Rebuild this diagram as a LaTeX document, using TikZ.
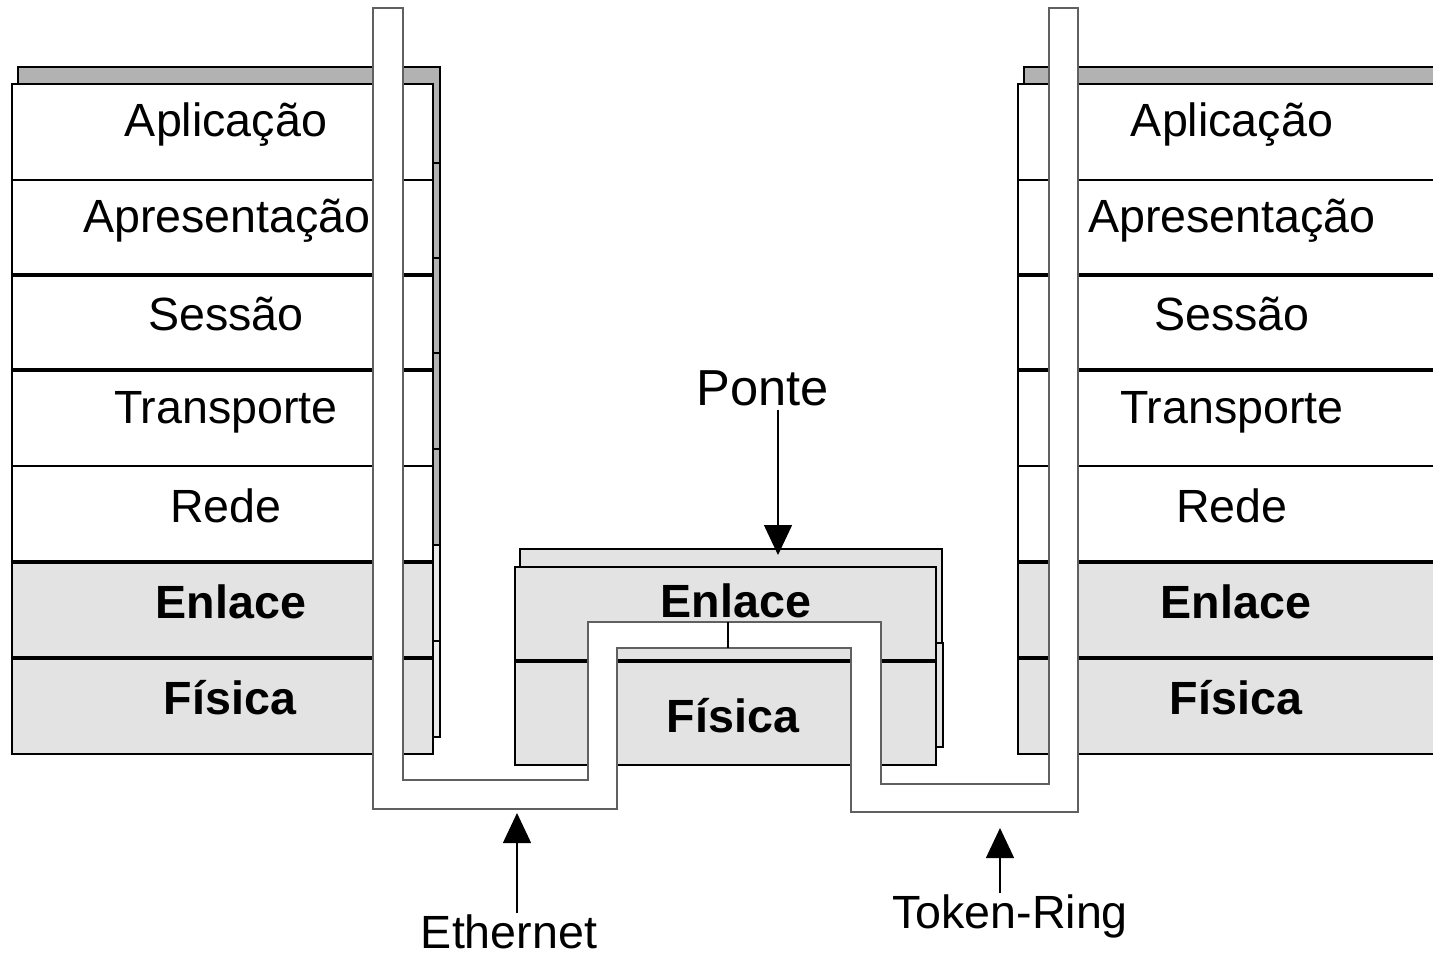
\documentclass[tikz,border=0pt]{standalone}
\usepackage{fontspec}
\setmainfont{Liberation Sans}
\usetikzlibrary{arrows.meta}
\definecolor{shadowgray}{HTML}{B2B2B2}
\definecolor{lightfill}{HTML}{E3E3E3}
\definecolor{lightshadow}{HTML}{E9E9E9}
\definecolor{pipeedge}{HTML}{606060}
\begin{document}
\begin{tikzpicture}[x=0.5pt,y=-0.5pt,
  stackline/.style={draw=black,line width=0.9pt},
  sepline/.style={draw=black,line width=1.6pt},
  pipe/.style={draw=pipeedge,fill=white,line width=0.8pt},
  lab/.style={anchor=base,inner sep=0pt,font=\fontsize{23.3}{27}\selectfont},
  blab/.style={lab,font=\fontsize{23.3}{27}\selectfont\bfseries},
  arr/.style={draw=black,line width=0.7pt,-{Triangle[length=15pt,width=14pt]}}]
\clip (0,0) rectangle (1433,954);
% ---------- left stack ----------
\foreach \t/\b/\f in {84/180/shadowgray,180/275/shadowgray,275/370/shadowgray,370/466/shadowgray,466/562/shadowgray,562/658/lightshadow,658/754/lightshadow}
  \draw[stackline,fill=\f] (18,{\t-17}) rectangle (440,{\b-17});
\foreach \t/\b/\f in {84/180/white,180/275/white,275/370/white,370/466/white,466/562/white,562/658/lightfill,658/754/lightfill}
  \draw[stackline,fill=\f] (12,\t) rectangle (433,\b);
\foreach \y in {275,370,562,658}
  \draw[sepline] (12,\y) -- (433,\y);
\node[lab]  (la1) at (226,136) {Aplicação};
\node[lab]  (la2) at (227,232) {Apresentação};
\node[lab]  (la3) at (226,330) {Sessão};
\node[lab]  (la4) at (226,423) {Transporte};
\node[lab]  (la5) at (226,522) {Rede};
\node[blab] (la6) at (231,618) {Enlace};
\node[blab] (la7) at (230,714) {Física};
% ---------- right stack ----------
\foreach \t/\b/\f in {84/180/shadowgray,180/275/shadowgray,275/370/shadowgray,370/466/shadowgray,466/562/shadowgray,562/658/lightshadow,658/754/lightshadow}
  \draw[stackline,fill=\f] (1024,{\t-17}) rectangle (1445,{\b-17});
\foreach \t/\b/\f in {84/180/white,180/275/white,275/370/white,370/466/white,466/562/white,562/658/lightfill,658/754/lightfill}
  \draw[stackline,fill=\f] (1018,\t) rectangle (1439,\b);
\foreach \y in {275,370,562,658}
  \draw[sepline] (1018,\y) -- (1439,\y);
\node[lab]  (ra1) at (1232,136) {Aplicação};
\node[lab]  (ra2) at (1232,232) {Apresentação};
\node[lab]  (ra3) at (1232,330) {Sessão};
\node[lab]  (ra4) at (1232,423) {Transporte};
\node[lab]  (ra5) at (1232,522) {Rede};
\node[blab] (ra6) at (1236,618) {Enlace};
\node[blab] (ra7) at (1236,714) {Física};
% ---------- bridge ----------
\draw[stackline,fill=lightfill] (520,549) rectangle (942,643);
\draw[stackline,fill=lightfill] (521,643) rectangle (943,747);
\draw[stackline,fill=lightfill] (515,567) rectangle (936,661);
\draw[stackline,fill=lightfill] (515,661) rectangle (936,765);
\draw[sepline] (515,661) -- (936,661);
\node[blab] (be) at (736,617) {Enlace};
\node[blab] (bf) at (733,732) {Física};
% ---------- pipe (path through the stacks) ----------
\draw[pipe] (373,8) -- (403,8) -- (403,780) -- (588,780) -- (588,622) -- (881,622)
  -- (881,784) -- (1049,784) -- (1049,8) -- (1078,8) -- (1078,812) -- (851,812)
  -- (851,648) -- (617,648) -- (617,809) -- (373,809) -- cycle;
\coordinate (bt) at (728,622);
\coordinate (bb) at (728,648);
\draw[draw=black,line width=0.7pt] (bt) -- (bb);
% ---------- labels and arrows ----------
\node[lab,font=\fontsize{25.3}{29}\selectfont] (ponte) at (763,405) {Ponte};
\coordinate (ponteStart) at (778,410);
\coordinate (ponteTip) at (778,555);
\draw[arr] (ponteStart) -- (ponteTip);
\node[lab] (eth) at (509,948) {Ethernet};
\coordinate (ethStart) at (517,913);
\coordinate (ethTip) at (517,813);
\draw[arr] (ethStart) -- (ethTip);
\node[lab] (tok) at (1010,928) {Token-Ring};
\coordinate (tokStart) at (1000,893);
\coordinate (tokTip) at (1000,828);
\draw[arr] (tokStart) -- (tokTip);
\end{tikzpicture}
\end{document}
